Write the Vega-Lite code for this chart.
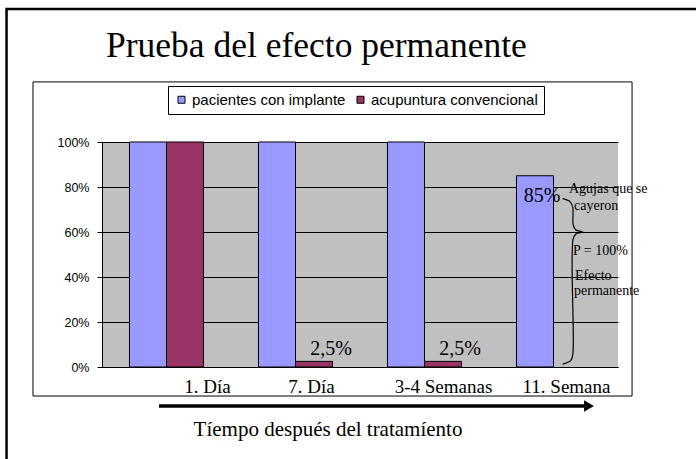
{
  "$schema": "https://vega.github.io/schema/vega-lite/v6.json",
  "autosize": {"type": "none"},
  "padding": {"left": 102, "top": 142, "right": 78, "bottom": 92},
  "width": 516,
  "height": 225,
  "background": "white",
  "config": {
    "view": {"fill": "#C0C0C0", "stroke": null},
    "locale": {"number": {"decimal": ",", "thousands": ".", "grouping": [3], "currency": ["", " €"]}}
  },
  "datasets": {
    "barras": [
      {"periodo": "1. Día", "grupo": "pacientes con implante", "valor": 1.0},
      {"periodo": "1. Día", "grupo": "acupuntura convencional", "valor": 1.0},
      {"periodo": "7. Día", "grupo": "pacientes con implante", "valor": 1.0},
      {"periodo": "7. Día", "grupo": "acupuntura convencional", "valor": 0.025},
      {"periodo": "3-4 Semanas", "grupo": "pacientes con implante", "valor": 1.0},
      {"periodo": "3-4 Semanas", "grupo": "acupuntura convencional", "valor": 0.025},
      {"periodo": "11. Semana", "grupo": "pacientes con implante", "valor": 0.85}
    ],
    "titulo": [{"texto": "Prueba del efecto permanente", "x": 0.031, "y": 1.378}],
    "marco": [{"x": -0.74, "x2": 6, "y": 1.591, "y2": -1.2}],
    "caja": [{"x": -0.535, "x2": 4.109, "y": 1.267, "y2": -0.129}],
    "llave": [
      {"i": 1, "x": 3.571, "y": 0.748},
      {"i": 2, "x": 3.628, "y": 0.735},
      {"i": 3, "x": 3.649, "y": 0.712},
      {"i": 4, "x": 3.653, "y": 0.631},
      {"i": 5, "x": 3.674, "y": 0.609},
      {"i": 6, "x": 3.726, "y": 0.6},
      {"i": 7, "x": 3.674, "y": 0.591},
      {"i": 8, "x": 3.653, "y": 0.572},
      {"i": 9, "x": 3.649, "y": 0.053},
      {"i": 10, "x": 3.633, "y": 0.028},
      {"i": 11, "x": 3.571, "y": 0.013}
    ],
    "notas": [
      {"texto": "Agujas que se", "x": 3.62, "y": 0.773},
      {"texto": "cayeron", "x": 3.659, "y": 0.698},
      {"texto": "P = 100%", "x": 3.651, "y": 0.498},
      {"texto": "Efecto", "x": 3.667, "y": 0.387},
      {"texto": "permanente", "x": 3.659, "y": 0.32}
    ],
    "eje": [{"texto": "Tíempo después del tratamíento", "x": 1.752, "y": -0.307}],
    "flecha": [{"x": 0.442, "x2": 3.744, "y": -0.173}],
    "punta": [{"x": 3.775, "y": -0.173}]
  },
  "layer": [
    {
      "layer": [
        {
          "data": {"name": "barras"},
          "mark": {"type": "bar", "stroke": "black", "strokeWidth": 1},
          "encoding": {
            "x": {
              "field": "periodo", "type": "nominal",
              "sort": ["1. Día", "7. Día", "3-4 Semanas", "11. Semana"],
              "scale": {"paddingInner": 0.426, "paddingOuter": 0.213},
              "axis": {
                "title": null, "ticks": false, "tickSize": 0,
                "domainColor": "black", "domainWidth": 1,
                "labelFont": "Liberation Serif", "labelFontSize": 19, "labelColor": "black",
                "labelAngle": 0, "labelBaseline": "alphabetic", "labelPadding": 25,
                "labelOffset": {
                  "condition": [
                    {"test": "datum.value === '1. Día'", "value": 41},
                    {"test": "datum.value === '7. Día'", "value": 16},
                    {"test": "datum.value === '3-4 Semanas'", "value": 19}
                  ],
                  "value": 13
                }
              }
            },
            "xOffset": {
              "field": "grupo", "type": "nominal",
              "sort": ["pacientes con implante", "acupuntura convencional"],
              "scale": {"paddingInner": 0, "paddingOuter": 0}
            },
            "y": {
              "field": "valor", "type": "quantitative",
              "scale": {"domain": [0, 1], "nice": false},
              "axis": {
                "title": null, "format": ".0%", "values": [0, 0.2, 0.4, 0.6, 0.8, 1],
                "grid": true, "gridColor": "black", "gridWidth": 1, "gridOpacity": 1,
                "domainColor": "black", "tickColor": "black", "tickSize": 5,
                "labelPadding": 8, "labelFont": "Liberation Sans", "labelFontSize": 12.5, "labelColor": "black"
              }
            },
            "color": {
              "field": "grupo", "type": "nominal",
              "scale": {"domain": ["pacientes con implante", "acupuntura convencional"], "range": ["#9999FF", "#993366"]},
              "legend": {
                "orient": "none", "legendX": 66, "legendY": -56, "direction": "horizontal",
                "title": null, "strokeColor": "black", "fillColor": "white", "padding": 6,
                "symbolType": "square", "symbolSize": 49, "symbolStrokeColor": "black", "symbolStrokeWidth": 1,
                "labelFont": "Liberation Sans", "labelFontSize": 15, "labelColor": "black", "labelLimit": 0,
                "labelOffset": 3, "columnPadding": 7
              }
            }
          }
        },
        {
          "data": {"name": "barras"},
          "transform": [{"filter": "datum.valor < 0.5"}],
          "mark": {"type": "text", "font": "Liberation Serif", "fontSize": 20, "dx": 17, "dy": -6, "baseline": "alphabetic", "align": "center", "color": "black"},
          "encoding": {
            "x": {"field": "periodo", "type": "nominal", "sort": ["1. Día", "7. Día", "3-4 Semanas", "11. Semana"]},
            "xOffset": {"field": "grupo", "type": "nominal", "sort": ["pacientes con implante", "acupuntura convencional"]},
            "y": {"field": "valor", "type": "quantitative", "scale": {"domain": [0, 1], "nice": false}},
            "text": {"field": "valor", "type": "quantitative", "format": ".1%"}
          }
        },
        {
          "data": {"name": "barras"},
          "transform": [{"filter": "datum.valor > 0.5 && datum.valor < 1"}],
          "mark": {"type": "text", "font": "Liberation Serif", "fontSize": 20, "dx": 7, "dy": 26, "baseline": "alphabetic", "align": "center", "color": "black"},
          "encoding": {
            "x": {"field": "periodo", "type": "nominal", "sort": ["1. Día", "7. Día", "3-4 Semanas", "11. Semana"]},
            "xOffset": {"field": "grupo", "type": "nominal", "sort": ["pacientes con implante", "acupuntura convencional"]},
            "y": {"field": "valor", "type": "quantitative", "scale": {"domain": [0, 1], "nice": false}},
            "text": {"field": "valor", "type": "quantitative", "format": ".0%"}
          }
        }
      ]
    },
    {
      "layer": [
        {
          "data": {"name": "marco"},
          "mark": {"type": "rect", "fill": null, "fillOpacity": 0, "stroke": "black", "strokeWidth": 2.5},
          "encoding": {
            "x": {"field": "x", "type": "quantitative", "scale": {"domain": [0, 4], "nice": false, "zero": false}, "axis": null},
            "x2": {"field": "x2"},
            "y": {"field": "y", "type": "quantitative", "scale": {"domain": [0, 1], "nice": false}},
            "y2": {"field": "y2"}
          }
        },
        {
          "data": {"name": "caja"},
          "mark": {"type": "rect", "fill": null, "fillOpacity": 0, "stroke": "black", "strokeWidth": 1},
          "encoding": {
            "x": {"field": "x", "type": "quantitative", "scale": {"domain": [0, 4], "nice": false, "zero": false}, "axis": null},
            "x2": {"field": "x2"},
            "y": {"field": "y", "type": "quantitative", "scale": {"domain": [0, 1], "nice": false}},
            "y2": {"field": "y2"}
          }
        },
        {
          "data": {"name": "titulo"},
          "mark": {"type": "text", "font": "Liberation Serif", "fontSize": 35.5, "align": "left", "baseline": "alphabetic", "color": "black"},
          "encoding": {
            "x": {"field": "x", "type": "quantitative", "scale": {"domain": [0, 4], "nice": false, "zero": false}, "axis": null},
            "y": {"field": "y", "type": "quantitative", "scale": {"domain": [0, 1], "nice": false}},
            "text": {"field": "texto"}
          }
        },
        {
          "data": {"name": "llave"},
          "mark": {"type": "line", "interpolate": "catmull-rom", "stroke": "black", "strokeWidth": 1.2},
          "encoding": {
            "x": {"field": "x", "type": "quantitative", "scale": {"domain": [0, 4], "nice": false, "zero": false}, "axis": null},
            "y": {"field": "y", "type": "quantitative", "scale": {"domain": [0, 1], "nice": false}},
            "order": {"field": "i", "type": "quantitative"}
          }
        },
        {
          "data": {"name": "notas"},
          "mark": {"type": "text", "font": "Liberation Serif", "fontSize": 14, "align": "left", "baseline": "alphabetic", "color": "black"},
          "encoding": {
            "x": {"field": "x", "type": "quantitative", "scale": {"domain": [0, 4], "nice": false, "zero": false}, "axis": null},
            "y": {"field": "y", "type": "quantitative", "scale": {"domain": [0, 1], "nice": false}},
            "text": {"field": "texto"}
          }
        },
        {
          "data": {"name": "eje"},
          "mark": {"type": "text", "font": "Liberation Serif", "fontSize": 21, "align": "center", "baseline": "alphabetic", "color": "black"},
          "encoding": {
            "x": {"field": "x", "type": "quantitative", "scale": {"domain": [0, 4], "nice": false, "zero": false}, "axis": null},
            "y": {"field": "y", "type": "quantitative", "scale": {"domain": [0, 1], "nice": false}},
            "text": {"field": "texto"}
          }
        },
        {
          "data": {"name": "flecha"},
          "mark": {"type": "rule", "stroke": "black", "strokeWidth": 3.5},
          "encoding": {
            "x": {"field": "x", "type": "quantitative", "scale": {"domain": [0, 4], "nice": false, "zero": false}, "axis": null},
            "x2": {"field": "x2"},
            "y": {"field": "y", "type": "quantitative", "scale": {"domain": [0, 1], "nice": false}}
          }
        },
        {
          "data": {"name": "punta"},
          "mark": {"type": "point", "shape": "triangle-right", "filled": true, "fill": "black", "stroke": null, "size": 130, "opacity": 1},
          "encoding": {
            "x": {"field": "x", "type": "quantitative", "scale": {"domain": [0, 4], "nice": false, "zero": false}, "axis": null},
            "y": {"field": "y", "type": "quantitative", "scale": {"domain": [0, 1], "nice": false}}
          }
        }
      ]
    }
  ],
  "resolve": {"scale": {"x": "independent"}}
}
